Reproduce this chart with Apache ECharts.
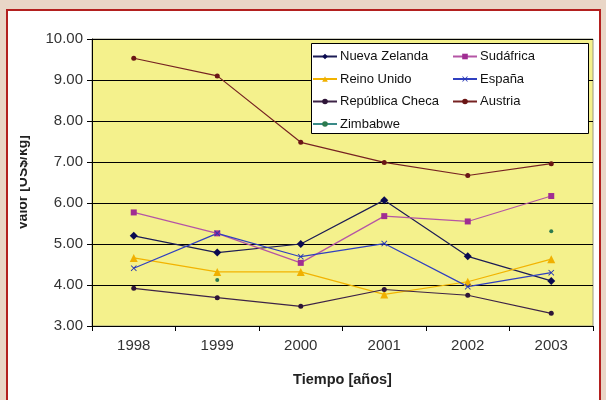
<!DOCTYPE html>
<html>
<head>
<meta charset="utf-8">
<script src="https://cdn.jsdelivr.net/npm/echarts@6/dist/echarts.min.js"></script>
<style>
  html, body { margin: 0; padding: 0; background: #e9d6c7; }
  #frame { position: absolute; left: 6px; top: 9px; width: 591px; height: 400px; background: #ffffff; border: 2px solid #b3201f; }
  #chart { position: absolute; left: 0; top: 0; width: 606px; height: 400px; }
</style>
</head>
<body>
<div id="frame"></div>
<div id="chart"></div>
<script>
const years = ['1998', '1999', '2000', '2001', '2002', '2003'];
const nuevaZelanda = [5.20, 4.79, 5.00, 6.07, 4.70, 4.10];
const sudafrica = [5.77, 5.26, 4.54, 5.68, 5.55, 6.17];
const reinoUnido = [4.66, 4.32, 4.32, 3.77, 4.08, 4.63];
const espana = [4.41, 5.26, 4.69, 5.01, 3.96, 4.30];
const republicaCheca = [3.92, 3.69, 3.48, 3.89, 3.75, 3.31];
const austria = [9.53, 9.10, 7.48, 6.99, 6.67, 6.96];
const zimbabwe = [null, 4.12, null, null, null, 5.31];
const yTicks = { min: 3, max: 10, step: 1 };

const xPath = 'path://M0,1L1,0L5,4L9,0L10,1L6,5L10,9L9,10L5,6L1,10L0,9L4,5Z';

function mk(name, data, symbol, size, lineColor, markColor) {
  return {
    name: name, type: 'line', data: data, symbol: symbol, symbolSize: size,
    showAllSymbol: true, connectNulls: false,
    lineStyle: { color: lineColor, width: 1.2 },
    itemStyle: { color: markColor },
    emphasis: { disabled: true }, animation: false, z: 2
  };
}

const chart = echarts.init(document.getElementById('chart'), null, { renderer: 'canvas' });
const font = '"Liberation Sans", Arial, sans-serif';
const legendCommon = {
  orient: 'vertical', top: 50, itemWidth: 24, itemHeight: 7, itemGap: 9.5, padding: 0,
  textStyle: { fontSize: 13, color: '#111', lineHeight: 13, fontFamily: font, padding: [0, 0, 0, -2] }, z: 10
};
chart.setOption({
  backgroundColor: 'transparent',
  animation: false,
  textStyle: { fontFamily: font },
  grid: { left: 92, right: 13, top: 39, bottom: 74, show: true, backgroundColor: '#f4f18c', borderColor: '#9a9a80', borderWidth: 1 },
  xAxis: {
    type: 'category', data: years, boundaryGap: true,
    axisLine: { lineStyle: { color: '#000', width: 1 } },
    axisTick: { show: true, length: 5, lineStyle: { color: '#000' } },
    axisLabel: { color: '#333', fontSize: 15, margin: 12, fontFamily: font },
    name: 'Tiempo [años]', nameLocation: 'middle', nameGap: 46,
    nameTextStyle: { color: '#222', fontSize: 14.5, fontWeight: 'bold', fontFamily: font },
    splitLine: { show: false }
  },
  yAxis: {
    type: 'value', min: yTicks.min, max: yTicks.max, interval: yTicks.step,
    axisLine: { show: true, lineStyle: { color: '#000', width: 1 } },
    axisTick: { show: true, length: 5, lineStyle: { color: '#000' } },
    axisLabel: { color: '#333', fontSize: 15, margin: 9, fontFamily: font, formatter: v => v.toFixed(2) },
    splitLine: { show: true, lineStyle: { color: '#000', width: 1 } },
    name: 'Valor [US$/kg]', nameLocation: 'middle', nameRotate: 90, nameGap: 62,
    nameTextStyle: { color: '#222', fontSize: 14, fontWeight: 'bold', fontFamily: font }
  },
  legend: [
    Object.assign({ data: ['Nueva Zelanda', 'Reino Unido', 'República Checa', 'Zimbabwe'], left: 312 }, legendCommon),
    Object.assign({ data: ['Sudáfrica', 'España', 'Austria'], left: 452 }, legendCommon)
  ],
  graphic: [
    { type: 'rect', shape: { x: 311.5, y: 43.5, width: 277, height: 90 }, style: { fill: '#ffffff', stroke: '#000', lineWidth: 1 }, z: 5 },
    { type: 'rect', shape: { x: 9, y: 90, width: 11, height: 190 }, style: { fill: '#ffffff' }, z: 50 }
  ],
  series: [
    mk('Nueva Zelanda', nuevaZelanda, 'diamond', 8, '#1c1c55', '#0a0a50'),
    mk('Sudáfrica', sudafrica, 'rect', 6, '#b555a5', '#a02d92'),
    mk('Reino Unido', reinoUnido, 'triangle', 8, '#f2b300', '#f0b000'),
    mk('España', espana, xPath, 6, '#3040c0', '#2535b5'),
    mk('República Checa', republicaCheca, 'circle', 5, '#3d2347', '#2e1538'),
    mk('Austria', austria, 'circle', 5, '#762222', '#6a1515'),
    mk('Zimbabwe', zimbabwe, 'circle', 4, '#3a8a88', '#2c7a4e')
  ]
});
</script>
</body>
</html>
